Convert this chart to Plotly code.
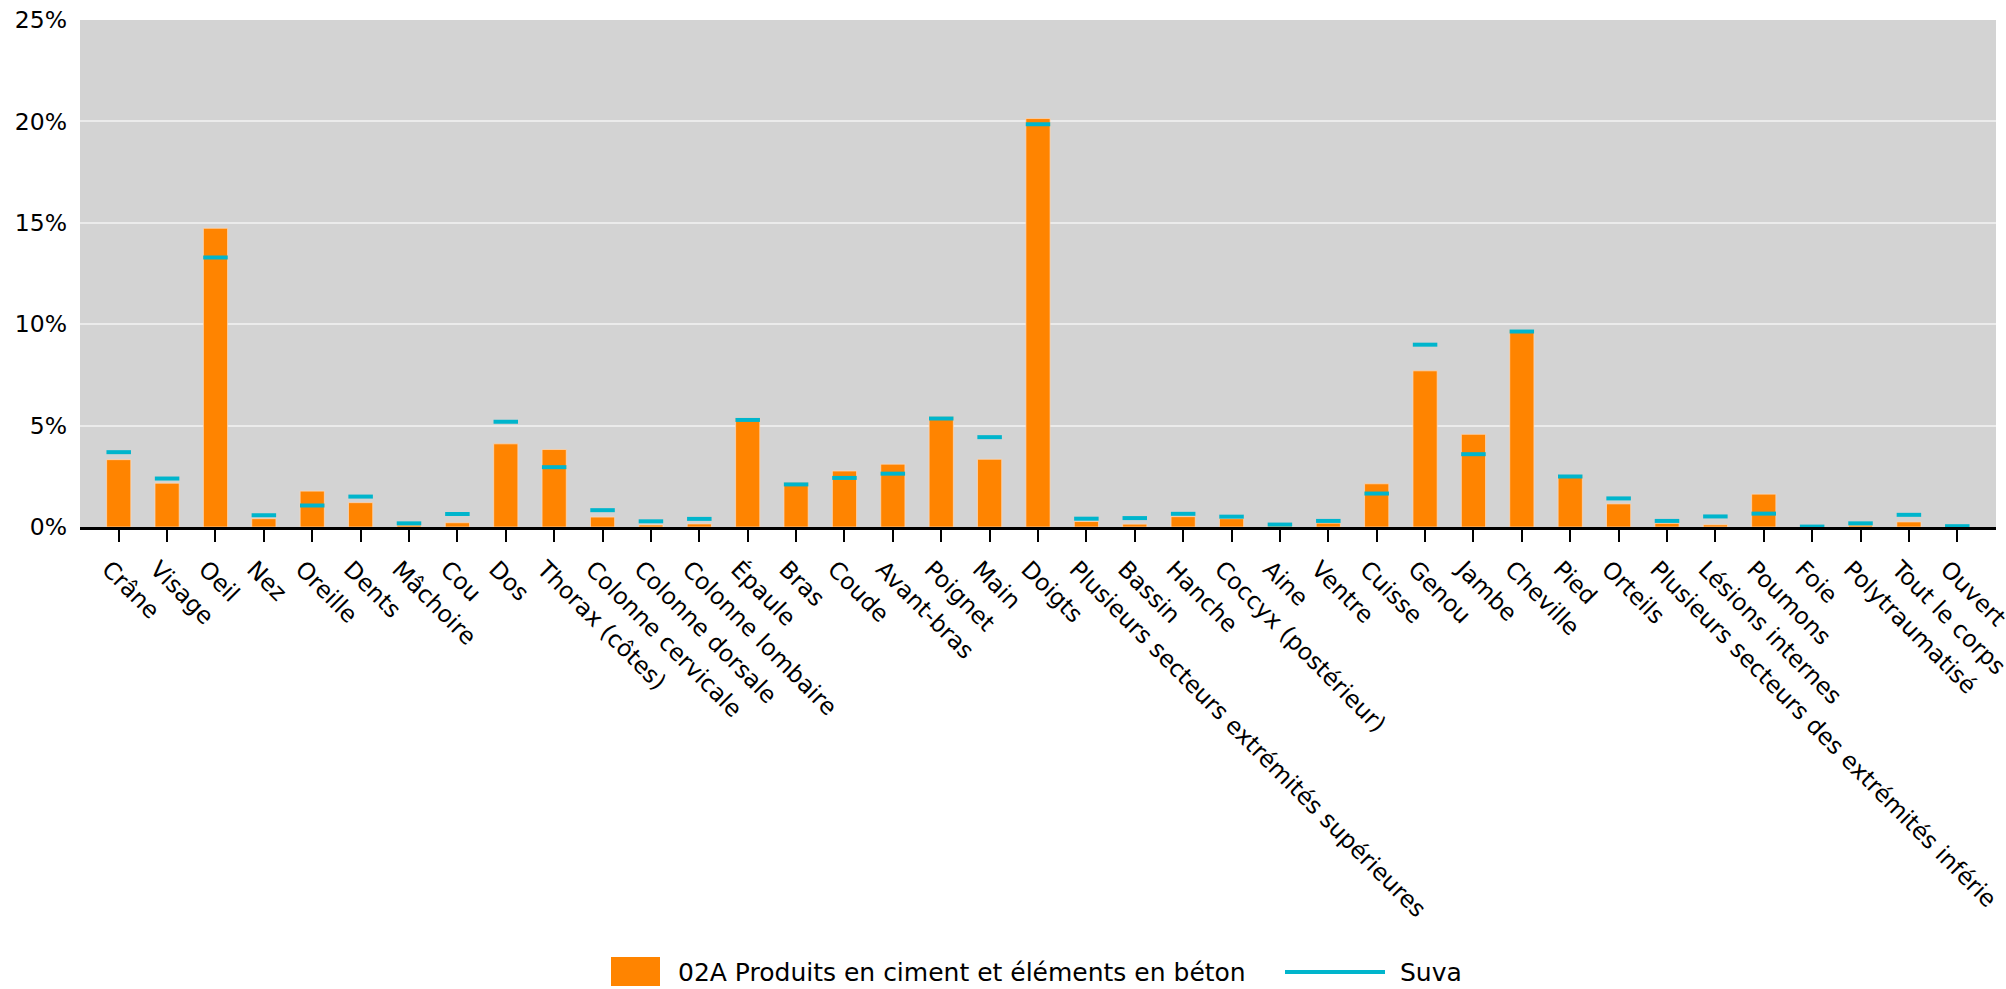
import plotly.graph_objects as go

categories = [
    "Crâne", "Visage", "Oeil", "Nez", "Oreille", "Dents", "Mâchoire", "Cou", "Dos",
    "Thorax (côtes)", "Colonne cervicale", "Colonne dorsale", "Colonne lombaire",
    "Épaule", "Bras", "Coude", "Avant-bras", "Poignet", "Main", "Doigts",
    "Plusieurs secteurs extrémités supérieures", "Bassin", "Hanche", "Coccyx (postérieur)",
    "Aine", "Ventre", "Cuisse", "Genou", "Jambe", "Cheville", "Pied", "Orteils",
    "Plusieurs secteurs des extrémités inférie", "Lésions internes", "Poumons", "Foie",
    "Polytraumatisé", "Tout le corps", "Ouvert",
]

branch_values = [
    3.32, 2.16, 14.73, 0.41, 1.77, 1.20, 0.09, 0.21, 4.10,
    3.82, 0.49, 0.10, 0.15,
    5.37, 2.18, 2.76, 3.10, 5.44, 3.34, 20.14,
    0.27, 0.14, 0.51, 0.41,
    0.05, 0.19, 2.13, 7.70, 4.57, 9.72, 2.54, 1.14,
    0.18, 0.11, 1.62, 0.00,
    0.09, 0.25, 0.02,
]

suva_values = [
    3.69, 2.39, 13.29, 0.58, 1.06, 1.50, 0.18, 0.64, 5.19,
    2.95, 0.83, 0.28, 0.40,
    5.28, 2.10, 2.42, 2.63, 5.35, 4.43, 19.86,
    0.41, 0.44, 0.65, 0.51,
    0.12, 0.30, 1.65, 8.99, 3.59, 9.64, 2.49, 1.41,
    0.30, 0.52, 0.66, 0.02,
    0.18, 0.60, 0.04,
]

y_ticks = [0, 5, 10, 15, 20, 25]
y_tick_text = [f"{v}%" for v in y_ticks]

branch_name = "02A Produits en ciment et éléments en béton"
suva_name = "Suva"

ORANGE = "#FF8400"
CYAN = "#00B5CC"
FONT = "DejaVu Sans"
FS = 23.5
LEG_FS = 25

fig = go.Figure()
fig.add_trace(go.Bar(
    x=categories, y=branch_values, name=branch_name, width=0.5,
    marker=dict(color=ORANGE, line=dict(color="rgba(255,220,190,0.7)", width=1)),
    showlegend=False,
))
fig.add_trace(go.Scatter(
    x=categories, y=suva_values, name=suva_name, mode="markers",
    marker=dict(symbol="line-ew", size=17.5, line=dict(color=CYAN, width=4)),
    showlegend=False,
))

# plot area in pixels: x 80..1996, y 20..527
W, H = 2006, 989
L, R, T, B = 80, 10, 20, 462
pw = W - L - R
ph = H - T - B

def px(x):
    return (x - L) / pw

def py(y):
    return (H - B - y) / ph

shapes = [
    dict(type="rect", xref="paper", yref="paper",
         x0=px(611), x1=px(660), y0=py(986), y1=py(957),
         fillcolor=ORANGE, line=dict(width=0)),
    dict(type="line", xref="paper", yref="paper",
         x0=px(1285), x1=px(1385), y0=py(972), y1=py(972),
         line=dict(color=CYAN, width=4)),
]
annotations = [
    dict(text=branch_name, xref="paper", yref="paper", x=px(676), y=py(972),
         xanchor="left", yanchor="middle", showarrow=False,
         font=dict(family=FONT, size=LEG_FS, color="black")),
    dict(text=suva_name, xref="paper", yref="paper", x=px(1398), y=py(972),
         xanchor="left", yanchor="middle", showarrow=False,
         font=dict(family=FONT, size=LEG_FS, color="black")),
]

fig.update_layout(
    width=W, height=H,
    margin=dict(l=L, r=R, t=T, b=B, pad=0),
    paper_bgcolor="white",
    plot_bgcolor="#D3D3D3",
    font=dict(family=FONT, size=FS, color="black"),
    bargap=0.5,
    shapes=shapes,
    annotations=annotations,
    xaxis=dict(
        type="category", range=[-0.8, len(categories) - 0.2],
        tickangle=45, automargin=False,
        showline=True, linecolor="black", linewidth=3,
        ticks="outside", ticklen=12, tickwidth=2, tickcolor="black",
        ticklabelshift=-10, ticklabelstandoff=4,
        showgrid=False, tickfont=dict(family=FONT, size=FS, color="black"),
    ),
    yaxis=dict(
        range=[0, 25], tickmode="array", tickvals=y_ticks, ticktext=y_tick_text,
        automargin=False,
        showgrid=True, gridcolor="#EBEBEB", gridwidth=2,
        zeroline=False, showline=False, ticks="",
        ticklabelstandoff=12,
        tickfont=dict(family=FONT, size=FS, color="black"),
    ),
)

fig.write_html(
    "out.html",
    config={"displayModeBar": False},
    post_script="document.body.style.margin='0';document.body.style.overflow='hidden';",
)
